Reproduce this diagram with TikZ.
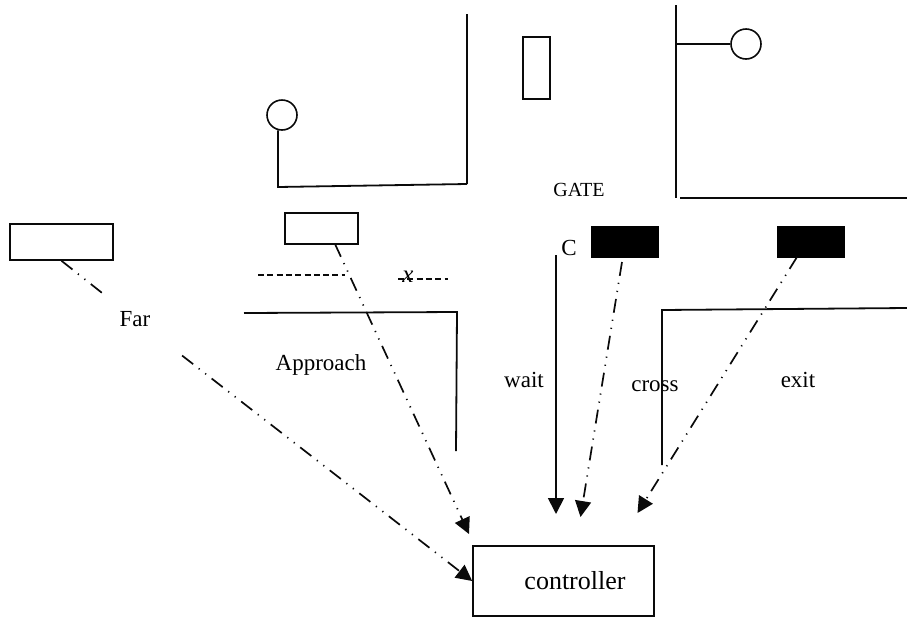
\documentclass[tikz,border=0pt]{standalone}
\usepackage{fontspec}
\setmainfont{Liberation Serif}
\usetikzlibrary{arrows.meta,positioning}
\definecolor{lineblack}{RGB}{10,10,10}

\begin{document}
\begin{tikzpicture}[
  x=1pt,y=-1pt,
  trainbox/.style={draw=lineblack,fill=white,line width=1.6pt,inner sep=0pt},
  blackbox/.style={draw=black,fill=black,inner sep=0pt,minimum width=67pt,minimum height=31pt},
  lamp/.style={draw=lineblack,fill=white,circle,line width=1.6pt,minimum size=30pt,inner sep=0pt},
  lbl/.style={font=\fontsize{23}{26}\selectfont,inner sep=0pt},
  track/.style={draw=lineblack,line width=1.8pt},
  sensor/.style={draw=lineblack,line width=1.7pt,dash pattern=on 14pt off 7pt on 1.2pt off 7pt on 1.2pt off 7pt},
  tip/.style={-{Triangle[length=16pt,width=16pt]}},
]
  \useasboundingbox (0,0) rectangle (907,619);

  \node[trainbox,minimum width=103pt,minimum height=36pt] (farbox) at (61.5,242) {};
  \node[trainbox,minimum width=73pt,minimum height=31pt] (appbox) at (321.5,228.5) {};
  \node[trainbox,minimum width=27pt,minimum height=62pt] (gatebox) at (536.5,68) {};
  \node[blackbox] (crossbox) at (624.5,241.5) {};
  \node[blackbox] (exitbox) at (810.5,241.5) {};
  \node[trainbox,minimum width=181pt,minimum height=70pt] (ctrl) at (563.5,581) {};

  \node[lamp] (lampl) at (282,115) {};
  \node[lamp] (lampr) at (746,44) {};

  \node[font=\fontsize{20}{24}\selectfont,inner sep=0pt] (gatetxt) at (579,190) {GATE};
  \node[lbl] (ctxt) at (569,248) {C};
  \node[lbl,inner xsep=15pt,inner ysep=25pt] (fartxt) at (135,319) {Far};
  \node[lbl] (apptxt) at (321,365) {Approach};
  \node[lbl] (waittxt) at (524,380) {wait};
  \node[lbl] (crosstxt) at (655,386) {cross};
  \node[lbl] (exittxt) at (798,380) {exit};
  \node[inner sep=0pt,font=\fontsize{25}{28}\selectfont\itshape] (xtxt) at (408,277) {x};
  \node[font=\fontsize{26}{30}\selectfont,inner sep=0pt] (ctrltxt) at (575,581) {controller};

  \draw[track] (lampl.-105) -- (278,187) -- (467,184);
  \draw[track] (467,14) -- (467,184);
  \draw[track] (676,5) -- (676,198);
  \draw[track] (676,44) -- (lampr.west);
  \draw[track] (680,198) -- (907,198);
  \draw[track] (244,313) -- (457,312) -- (456,451);
  \draw[track] (662,465) -- (662,310) -- (907,308);

  \draw[lineblack,line width=1.2pt,dash pattern=on 6pt off 3.3pt] (258,275) -- (345,275);
  \draw[lineblack,line width=1.2pt,dash pattern=on 6pt off 3.3pt] (398,279) -- (448,279);

  \coordinate (waitfrom) at (556,255);
  \coordinate (waitto) at (556,514);
  \coordinate (appfrom) at (335,244);
  \coordinate (appto) at (469,534);
  \coordinate (crossfrom) at (622,262);
  \coordinate (crossto) at (580.5,517);
  \coordinate (exitfrom) at (797,257);
  \coordinate (exitto) at (637.5,513);

  \draw[track,tip] (waitfrom) -- (waitto);
  \draw[sensor] (farbox.south) -- (fartxt);
  \draw[sensor,tip,shorten <=21pt] (fartxt) -- (ctrl.west);
  \draw[sensor,tip] (appfrom) -- (appto);
  \draw[sensor,tip] (crossfrom) -- (crossto);
  \draw[sensor,tip] (exitfrom) -- (exitto);
\end{tikzpicture}
\end{document}
